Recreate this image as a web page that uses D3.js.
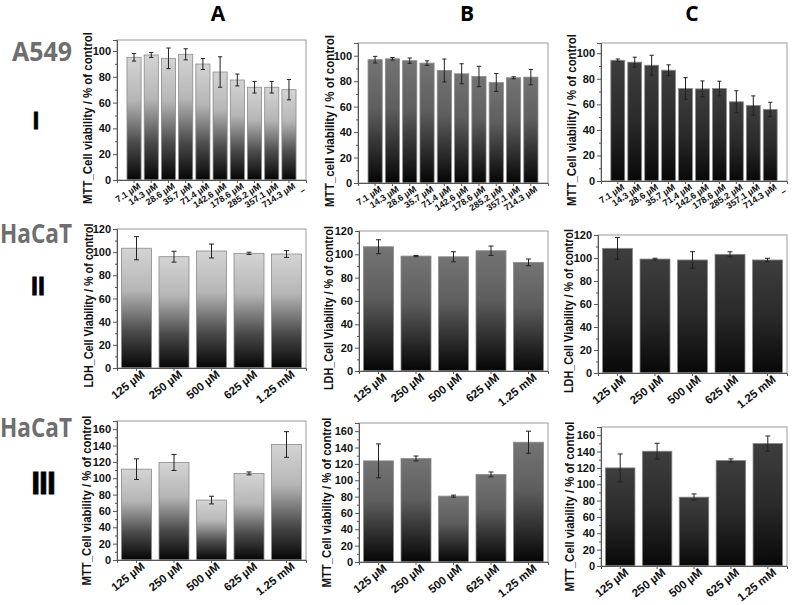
<!DOCTYPE html>
<html><head><meta charset="utf-8">
<script src="https://cdn.jsdelivr.net/npm/d3@7"></script>
<style>body{margin:0;background:#fff;} svg{display:block;}</style>
</head><body>
<svg id="chart" width="793" height="605"></svg>
<script>
// ---------- DATA ----------
const columnHeaders = ["A", "B", "C"];
const rowNames = ["I", "II", "III"];
const cellLines = ["A549", "HaCaT", "HaCaT"];

const concA549 = ["7.1 µM","14.3 µM","28.6 µM","35.7 µM","71.4 µM","142.6 µM","178.6 µM","285.2 µM","357.1 µM","714.3 µM"];
const concHaCaT = ["125 µM","250 µM","500 µM","625 µM","1.25 mM"];

// Row I: A549, MTT
const rowI_A_values = [95.1, 96.9, 94.3, 97.4, 89.9, 83.7, 77.5, 71.9, 71.9, 70.0];
const rowI_A_errors = [2.9, 1.9, 8.0, 4.3, 4.3, 11.8, 4.6, 4.5, 4.5, 7.9];
const rowI_B_values = [96.9, 97.6, 96.1, 94.2, 88.4, 85.8, 83.7, 79.0, 82.7, 83.2];
const rowI_B_errors = [2.6, 1.0, 2.1, 1.8, 9.0, 7.9, 8.0, 7.0, 0.8, 6.0];
const rowI_C_values = [94.5, 93.0, 90.6, 86.7, 72.4, 72.1, 72.4, 62.0, 59.1, 56.0];
const rowI_C_errors = [1.0, 3.9, 7.8, 4.2, 8.5, 6.2, 5.7, 8.6, 7.5, 5.6];

// Row II: HaCaT, LDH
const rowII_A_values = [103.4, 96.1, 101.0, 99.0, 98.4];
const rowII_A_errors = [10.0, 4.7, 6.0, 1.0, 2.9];
const rowII_B_values = [106.5, 98.5, 97.9, 103.1, 93.1];
const rowII_B_errors = [6.0, 0.5, 4.3, 4.0, 2.9];
const rowII_C_values = [108.4, 99.1, 98.3, 103.2, 98.3];
const rowII_C_errors = [9.5, 0.7, 7.2, 2.2, 1.5];

// Row III: HaCaT, MTT
const rowIII_A_values = [111.1, 119.3, 73.3, 105.9, 141.3];
const rowIII_A_errors = [12.6, 9.8, 4.7, 1.8, 15.7];
const rowIII_B_values = [123.7, 126.6, 80.6, 107.1, 146.5];
const rowIII_B_errors = [20.7, 3.0, 1.2, 3.0, 13.5];
const rowIII_C_values = [120.0, 140.4, 84.2, 129.0, 149.8];
const rowIII_C_errors = [17.0, 9.7, 3.9, 2.0, 9.2];

const yTicksI = [0, 20, 40, 60, 80, 100];
const yTicksII = [0, 20, 40, 60, 80, 100, 120];
const yTicksIII = [0, 20, 40, 60, 80, 100, 120, 140, 160];

const yLabels = {
  I_A: "MTT_Cell viability / % of control",
  I_B: "MTT_cell viability / % of control",
  I_C: "MTT_Cell viability / % of control",
  II: "LDH_Cell Viability / % of control",
  III: "MTT_Cell viability / % of control"
};

// ---------- DRAW ----------
const svg = d3.select("#chart");
const defs = svg.append("defs");
const gradients = [
  {id: "gA", stops: [[0, "#d4d4d4"], [0.35, "#b6b6b6"], [0.7, "#4a4a4a"], [1, "#050505"]]},
  {id: "gB", stops: [[0, "#747474"], [0.4, "#5e5e5e"], [0.75, "#2a2a2a"], [1, "#050505"]]},
  {id: "gC", stops: [[0, "#3e3e3e"], [0.5, "#2a2a2a"], [1, "#080808"]]}
];
gradients.forEach(g => {
  const lg = defs.append("linearGradient").attr("id", g.id)
    .attr("x1", 0).attr("y1", 0).attr("x2", 0).attr("y2", 1);
  g.stops.forEach(s => lg.append("stop").attr("offset", s[0]).attr("stop-color", s[1]));
});

const FONT = "'Liberation Sans', Arial, sans-serif";

function drawPanel(p) {
  const x = d3.scaleBand().domain(p.cats).range([p.left, p.right])
    .paddingInner(p.pIn).paddingOuter(p.pOut);
  const y = d3.scaleLinear().domain([0, p.yMax]).range([p.y0, p.top]);
  const g = svg.append("g");

  g.selectAll("rect.bar").data(p.values).join("rect")
    .attr("x", (d, i) => x(p.cats[i]))
    .attr("y", d => y(d))
    .attr("width", x.bandwidth())
    .attr("height", d => y(0) - y(d))
    .attr("fill", `url(#${p.grad})`)
    .attr("stroke", "#8a8a8a").attr("stroke-width", 0.8);

  const capW = Math.min(5, x.bandwidth() * 0.3);
  p.values.forEach((v, i) => {
    const cx = x(p.cats[i]) + x.bandwidth() / 2;
    const e = p.errors[i];
    g.append("line").attr("x1", cx).attr("x2", cx).attr("y1", y(v + e)).attr("y2", y(v - e))
      .attr("stroke", "#222").attr("stroke-width", 1);
    [v + e, v - e].forEach(t => g.append("line").attr("x1", cx - capW / 2).attr("x2", cx + capW / 2)
      .attr("y1", y(t)).attr("y2", y(t)).attr("stroke", "#222").attr("stroke-width", 1));
  });

  g.append("rect").attr("x", p.left).attr("y", p.top).attr("width", p.right - p.left)
    .attr("height", p.y0 - p.top).attr("fill", "none").attr("stroke", "#9a9a9a").attr("stroke-width", 1);

  const yAxis = d3.axisLeft(y).tickValues(p.yTicks).tickSize(4).tickPadding(2).tickFormat(d3.format("d"));
  const ya = g.append("g").attr("transform", `translate(${p.left},0)`).call(yAxis);
  ya.select(".domain").attr("stroke", "#555");
  ya.selectAll(".tick line").attr("stroke", "#555");
  ya.selectAll("text").attr("font-family", FONT).attr("font-weight", "bold")
    .attr("font-size", 11).attr("fill", "#111");
  const minor = d3.range(10, p.yMax, 20);
  const yMinor = d3.axisLeft(y).tickValues(minor).tickSize(2).tickFormat("");
  const ym = g.append("g").attr("transform", `translate(${p.left},0)`).call(yMinor);
  ym.select(".domain").remove();
  ym.selectAll(".tick line").attr("stroke", "#555");

  const xAxis = d3.axisBottom(x).tickSize(3).tickPadding(2);
  const xa = g.append("g").attr("transform", `translate(0,${p.y0})`).call(xAxis);
  xa.select(".domain").attr("stroke", "#555");
  xa.selectAll(".tick line").attr("stroke", "#555");
  xa.selectAll("text").attr("font-family", FONT).attr("font-weight", "bold")
    .attr("font-size", p.xFont).attr("fill", "#111")
    .attr("text-anchor", "end").attr("dy", "0.6em").attr("dx", "0.2em")
    .attr("transform", `rotate(${p.xRot})`);
  if (p.dash) {
    g.append("text").attr("x", p.right - 2).attr("y", p.y0 + 13)
      .attr("font-family", FONT).attr("font-weight", "bold").attr("font-size", 9)
      .attr("text-anchor", "middle").attr("transform", `rotate(${p.xRot},${p.right - 2},${p.y0 + 13})`)
      .text("–");
  }

  const ly = (p.top + p.y0) / 2 + p.labelDy;
  g.append("text").attr("transform", `translate(${p.labelX},${ly}) rotate(-90)`)
    .attr("text-anchor", "middle").attr("dominant-baseline", "central").attr("font-family", FONT).attr("font-weight", "bold")
    .attr("font-size", p.labelFont).attr("fill", "#111")
    .attr("textLength", p.labelLen).attr("lengthAdjust", "spacingAndGlyphs").text(p.label);
}

const rowIcommon = {cats: concA549, pIn: 0.18, pOut: 0.58, yTicks: yTicksI, xFont: 9, xRot: -33, labelFont: 12, labelLen: 172, labelDy: 8};
const rowIIcommon = {cats: concHaCaT, pIn: 0.2, pOut: 0.12, yTicks: yTicksII, yMax: 120, xFont: 11.5, xRot: -38, labelFont: 12, labelLen: 164, labelDy: 7};
const rowIIIcommon = {cats: concHaCaT, pIn: 0.2, pOut: 0.12, yTicks: yTicksIII, yMax: 170, xFont: 11.5, xRot: -38, labelFont: 12, labelLen: 170, labelDy: 10};

const panels = [
  Object.assign({}, rowIcommon, {left: 117, right: 306, top: 40, y0: 180, yMax: 108.5, values: rowI_A_values, errors: rowI_A_errors, grad: "gA", label: yLabels.I_A, labelX: 88, dash: true}),
  Object.assign({}, rowIcommon, {left: 358, right: 548, top: 43, y0: 183, yMax: 110, values: rowI_B_values, errors: rowI_B_errors, grad: "gB", label: yLabels.I_B, labelX: 330, dash: false}),
  Object.assign({}, rowIcommon, {left: 601, right: 787, top: 43, y0: 181, yMax: 108, values: rowI_C_values, errors: rowI_C_errors, grad: "gC", label: yLabels.I_C, labelX: 572, dash: true}),
  Object.assign({}, rowIIcommon, {left: 117, right: 306, top: 229, y0: 368, values: rowII_A_values, errors: rowII_A_errors, grad: "gA", label: yLabels.II, labelX: 89}),
  Object.assign({}, rowIIcommon, {left: 359, right: 548, top: 231, y0: 371, values: rowII_B_values, errors: rowII_B_errors, grad: "gB", label: yLabels.II, labelX: 329}),
  Object.assign({}, rowIIcommon, {left: 598, right: 787, top: 235, y0: 373, values: rowII_C_values, errors: rowII_C_errors, grad: "gC", label: yLabels.II, labelX: 569}),
  Object.assign({}, rowIIIcommon, {left: 117, right: 306, top: 421, y0: 560, values: rowIII_A_values, errors: rowIII_A_errors, grad: "gA", label: yLabels.III, labelX: 87}),
  Object.assign({}, rowIIIcommon, {left: 359, right: 548, top: 423, y0: 562, values: rowIII_B_values, errors: rowIII_B_errors, grad: "gB", label: yLabels.III, labelX: 327}),
  Object.assign({}, rowIIIcommon, {left: 601, right: 787, top: 427, y0: 566, values: rowIII_C_values, errors: rowIII_C_errors, grad: "gC", label: yLabels.III, labelX: 570})
];
panels.forEach(drawPanel);

// column headers
const headerX = [218, 467, 692];
columnHeaders.forEach((h, i) => svg.append("text").attr("x", headerX[i]).attr("y", 21)
  .attr("text-anchor", "middle").attr("font-family", "'Open Sans', sans-serif").attr("font-weight", "bold")
  .attr("font-size", 21).attr("fill", "#000").text(h));

// row labels (cell lines)
const cellX = [12, 0, 0];
const cellW = [60, 72, 72];
const cellY = [61, 243, 437];
cellLines.forEach((c, i) => svg.append("text").attr("x", cellX[i]).attr("y", cellY[i])
  .attr("font-family", "'Open Sans', sans-serif").attr("font-weight", "bold")
  .attr("font-size", 26).attr("fill", "#6e6e6e")
  .attr("textLength", cellW[i]).attr("lengthAdjust", "spacingAndGlyphs").text(c));

// roman numerals
const romanX = [36, 38, 43];
const romanY = [129, 295, 494];
const romanSize = [23, 25, 32];
rowNames.forEach((r, i) => svg.append("text").attr("x", romanX[i]).attr("y", romanY[i])
  .attr("text-anchor", "middle")
  .attr("font-family", FONT).attr("font-weight", "bold").attr("letter-spacing", i === 2 ? -1 : 0)
  .attr("font-size", romanSize[i]).attr("fill", "#000")
  .attr("stroke", "#000").attr("stroke-width", 0.8).text(r));
</script>
</body></html>
